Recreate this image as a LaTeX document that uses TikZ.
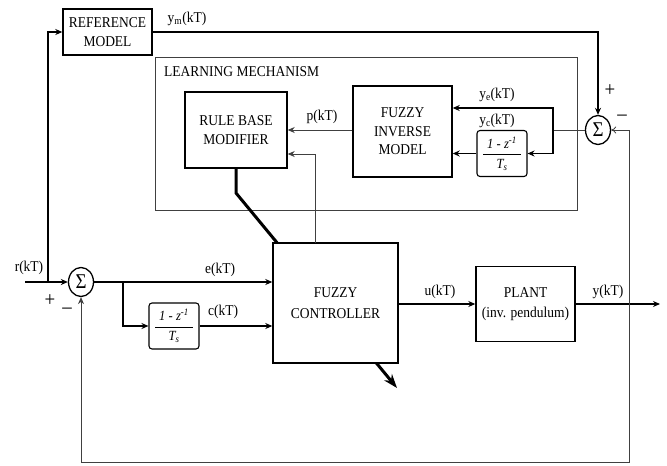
\documentclass[tikz,border=0pt]{standalone}
\usepackage{fontspec}
\setmainfont{Liberation Serif}[FakeStretch=0.9]
\usetikzlibrary{arrows.meta,shapes.geometric}
\newcommand{\difffrac}{\fontsize{14}{15}\selectfont$\displaystyle\frac{\mbox{\hspace{4pt}\itshape 1 - z\textsuperscript{-1}\hspace{4pt}}}{\mbox{\itshape T\textsubscript{s}}}$}
\begin{document}
\begin{tikzpicture}[x=1pt,y=-1pt,
  blk/.style={draw,line width=1.4pt,fill=white,align=center,inner sep=0pt,font=\fontsize{15}{19}\selectfont},
  dblk/.style={draw,line width=1.1pt,rounded corners=3pt,fill=white,inner sep=0pt,minimum width=50pt,minimum height=46pt},
  sumnode/.style={draw,ellipse,line width=1.3pt,inner sep=0pt,minimum width=25pt,minimum height=29pt,font=\fontsize{21}{21}\selectfont},
  thk/.style={line width=1.5pt},
  thn/.style={line width=0.8pt,draw=black!75},
  arr/.style={-{Stealth[length=7pt,width=6pt]}},
  lbl/.style={font=\fontsize{15}{17}\selectfont,inner sep=0pt},
  sgn/.style={font=\fontsize{21}{21}\selectfont,inner sep=0pt}]
\useasboundingbox (0,0) rectangle (667,466);
% learning mechanism box
\node[draw,thn,minimum width=422pt,minimum height=153pt,inner sep=0pt] (learn) at (366,133.5) {};
\node[lbl,anchor=west] (lmlbl) at (164,72) {LEARNING MECHANISM};
% blocks
\node[blk,minimum width=89pt,minimum height=46pt] (ref) at (107.5,32) {REFERENCE\\MODEL};
\node[blk,minimum width=102pt,minimum height=76pt] (rbm) at (236,130) {RULE BASE\\MODIFIER};
\node[blk,minimum width=99pt,minimum height=91pt,font=\fontsize{15}{18.5}\selectfont] (fim) at (402.5,131.5) {FUZZY\\INVERSE\\MODEL};
\node[dblk] (dR) at (502,153.5) {\difffrac};
\node[sumnode] (sR) at (598,130) {Σ};
\node[sumnode] (sL) at (81,282) {Σ};
\node[dblk] (dL) at (174,326) {\difffrac};
% adaptation arrow (behind controller)
\coordinate (bend) at (236,193);
\coordinate (tip) at (397,388);
\draw[line width=3pt,-{Stealth[length=14pt,width=10pt]}] (rbm.south) -- (bend) -- (tip);
\node[blk,minimum width=125pt,minimum height=120pt,font=\fontsize{15}{21}\selectfont] (fc) at (335.5,303) {FUZZY\\CONTROLLER};
\node[blk,minimum width=99pt,minimum height=75pt,font=\fontsize{15}{20}\selectfont] (plant) at (525.5,304) {PLANT\\(inv. pendulum)};
% coordinates
\coordinate (rin) at (25,282);
\coordinate (rsplit) at (48,282);
\coordinate (esplit) at (123,282);
\coordinate (ymc) at (598,32);
\coordinate (sRsplit) at (553,130);
\coordinate (fbR) at (629,462);
\coordinate (yout) at (660,304);
\coordinate (fcup) at (315,243);
% connectors
\draw[thk,arr] (rin) -- (sL.west);
\draw[thk,arr] (rsplit) |- (ref.west);
\draw[thk,arr] (ref.east |- ymc) -| (sR.north);
\draw[thn] (sR.west) -- (sRsplit);
\draw[thk,arr] (sRsplit) |- (fim.east |- 0,108);
\draw[thk,arr] (sRsplit) |- (dR.east);
\draw[thk,arr] (dR.west) -- (fim.east |- dR.west);
\draw[thn,arr] (fim.west |- rbm.east) -- (rbm.east);
\draw[thn,arr] (fcup) |- (rbm.east |- 0,154);
\draw[thk,arr] (sL.east) -- (fc.west |- sL.east);
\draw[thk,arr] (esplit) |- (dL.west);
\draw[thk,arr] (dL.east) -- (fc.west |- dL.east);
\draw[thk,arr] (fc.east |- plant.west) -- (plant.west);
\draw[thk,arr] (plant.east) -- (yout);
\draw[thn,{Stealth[length=7pt,width=6pt]}-{To[length=5pt,width=7pt]}] (sL.south) |- (fbR) |- (sR.east);
% labels
\node[lbl] (lym) at (187,19) {y\textsubscript{m}(kT)};
\node[lbl] (lp) at (322,117) {p(kT)};
\node[lbl] (lye) at (497,95) {y\textsubscript{e}(kT)};
\node[lbl] (lyc) at (497,121) {y\textsubscript{c}(kT)};
\node[lbl] (lr) at (29,268) {r(kT)};
\node[lbl] (le) at (220,270) {e(kT)};
\node[lbl] (lc) at (223,312) {c(kT)};
\node[lbl] (lu) at (440,292) {u(kT)};
\node[lbl] (ly) at (608,292) {y(kT)};
\node[sgn] (pL) at (50,301) {+};
\node[sgn] (mL) at (67,311) {\textendash};
\node[sgn] (pR) at (610,91) {+};
\node[sgn] (mR) at (622,118) {\textendash};
\end{tikzpicture}
\end{document}
